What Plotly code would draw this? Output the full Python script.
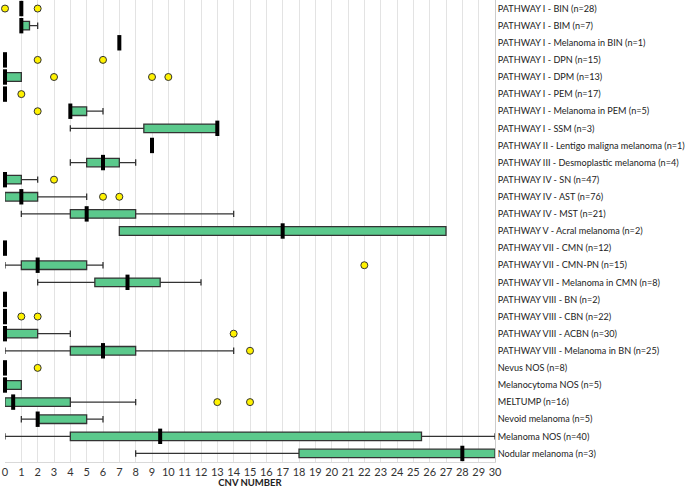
import plotly.graph_objects as go

labels = [
    "PATHWAY I - BIN (n=28)",
    "PATHWAY I - BIM (n=7)",
    "PATHWAY I - Melanoma in BIN (n=1)",
    "PATHWAY I - DPN (n=15)",
    "PATHWAY I - DPM (n=13)",
    "PATHWAY I - PEM (n=17)",
    "PATHWAY I - Melanoma in PEM (n=5)",
    "PATHWAY I - SSM (n=3)",
    "PATHWAY II - Lentigo maligna melanoma (n=1)",
    "PATHWAY III - Desmoplastic melanoma (n=4)",
    "PATHWAY IV - SN (n=47)",
    "PATHWAY IV - AST (n=76)",
    "PATHWAY IV - MST (n=21)",
    "PATHWAY V - Acral melanoma (n=2)",
    "PATHWAY VII - CMN (n=12)",
    "PATHWAY VII - CMN-PN (n=15)",
    "PATHWAY VII - Melanoma in CMN (n=8)",
    "PATHWAY VIII - BN (n=2)",
    "PATHWAY VIII - CBN (n=22)",
    "PATHWAY VIII - ACBN (n=30)",
    "PATHWAY VIII - Melanoma in BN (n=25)",
    "Nevus NOS (n=8)",
    "Melanocytoma NOS (n=5)",
    "MELTUMP (n=16)",
    "Nevoid melanoma (n=5)",
    "Melanoma NOS (n=40)",
    "Nodular melanoma (n=3)",
]

lower = [1, 1, 7, 0, 0, 0, 4, 4, 9, 4, 0, 0, 1, 7, 0, 0, 2, 0, 0, 0, 0, 0, 0, 0, 1, 0, 8]
q1 = [1, 1, 7, 0, 0, 0, 4, 8.5, 9, 5, 0, 0, 4, 7, 0, 1, 5.5, 0, 0, 0, 4, 0, 0, 0, 2, 4, 18]
median = [1, 1, 7, 0, 0, 0, 4, 13, 9, 6, 0, 1, 5, 17, 0, 2, 7.5, 0, 0, 0, 6, 0, 0, 0.5, 2, 9.5, 28]
q3 = [1, 1.5, 7, 0, 1, 0, 5, 13, 9, 7, 1, 2, 8, 27, 0, 5, 9.5, 0, 0, 2, 8, 0, 1, 4, 5, 25.5, 30]
upper = [1, 2, 7, 0, 1, 0, 6, 13, 9, 8, 2, 5, 14, 27, 0, 6, 12, 0, 0, 4, 14, 0, 1, 8, 6, 30, 30]

# outliers: (row index, value)
outlier_rows = [0, 0, 3, 3, 4, 4, 4, 5, 6, 10, 11, 11, 15, 18, 18, 19, 20, 21, 23, 23]
outlier_values = [0, 2, 2, 6, 3, 9, 10, 1, 2, 3, 6, 7, 22, 1, 2, 14, 15, 2, 13, 15]

FONT = "Lato, 'Open Sans', sans-serif"

fig = go.Figure()

fig.add_trace(go.Box(
    y=labels,
    q1=q1,
    median=median,
    q3=q3,
    lowerfence=lower,
    upperfence=upper,
    orientation="h",
    boxpoints=False,
    fillcolor="#5BC98C",
    line=dict(color="#333333", width=1.3),
    width=0.5,
    whiskerwidth=0.75,
    showlegend=False,
    hoverinfo="skip",
))

# thick median bars
fig.add_trace(go.Scatter(
    x=median,
    y=labels,
    mode="markers",
    marker=dict(symbol="line-ns", size=11, line=dict(color="black", width=4)),
    cliponaxis=False,
    showlegend=False,
    hoverinfo="skip",
))

fig.add_trace(go.Scatter(
    x=outlier_values,
    y=[labels[i] for i in outlier_rows],
    mode="markers",
    marker=dict(symbol="circle", size=7, color="#FFF200",
                line=dict(color="#333333", width=1)),
    cliponaxis=False,
    showlegend=False,
    hoverinfo="skip",
))

fig.update_layout(
    width=685,
    height=488,
    margin=dict(l=5, r=190, t=0, b=26),
    plot_bgcolor="white",
    paper_bgcolor="white",
    font=dict(family=FONT, color="#222222"),
    xaxis=dict(
        range=[0, 30],
        dtick=1,
        showgrid=True,
        gridcolor="#E3E3E3",
        gridwidth=1,
        zeroline=False,
        showline=True,
        linecolor="#D9D9D9",
        ticks="",
        automargin=False,
        tickfont=dict(size=11, color="#333333"),
        title=dict(text="<b>CNV NUMBER</b>", font=dict(size=9.5, color="#222222"), standoff=3),
    ),
    yaxis=dict(
        type="category",
        categoryorder="array",
        categoryarray=labels,
        range=[len(labels) - 0.5, -0.5],
        side="right",
        showgrid=False,
        zeroline=False,
        showline=True,
        linecolor="#CCCCCC",
        ticks="",
        automargin=False,
        tickfont=dict(size=9.1, color="#222222"),
    ),
)

# the page's default 8px body margin would shift the whole figure
fig.write_html(
    "out.html",
    config={"displayModeBar": False},
    post_script="document.body.style.margin = '0';",
)
